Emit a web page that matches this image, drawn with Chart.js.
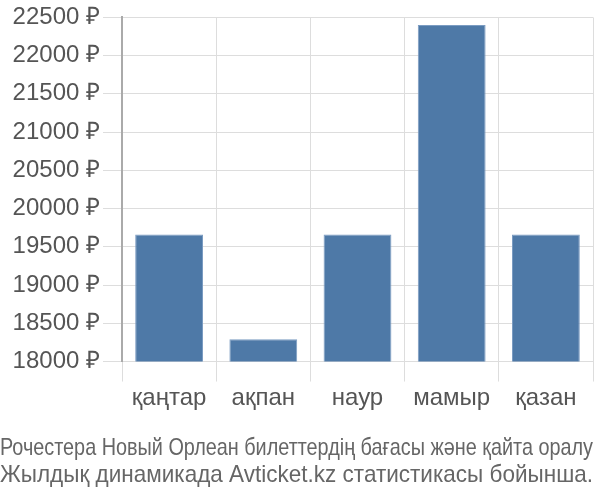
<!DOCTYPE html>
<html>
<head>
<meta charset="utf-8">
<script src="https://cdn.jsdelivr.net/npm/chart.js@4"></script>
<style>
  body { margin: 0; background: #fff; }
  #wrap { width: 600px; height: 500px; position: relative; }
</style>
</head>
<body>
<div id="wrap"><canvas id="priceChart"></canvas></div>
<script>
const months = ['қаңтар', 'ақпан', 'наур', 'мамыр', 'қазан'];
const prices = [19660, 18290, 19660, 22400, 19660];
const titleLines = [
  'Рочестера Новый Орлеан билеттердің бағасы және қайта оралу',
  'Жылдық динамикада Avticket.kz статистикасы бойынша.'
];

const ctx = document.getElementById('priceChart').getContext('2d');

new Chart(ctx, {
  type: 'bar',
  data: {
    labels: months,
    datasets: [{
      data: prices,
      backgroundColor: '#4e79a7',
      borderColor: '#7b9cc2',
      borderWidth: 1
    }]
  },
  options: {
    responsive: true,
    maintainAspectRatio: false,
    animation: false,
    layout: { padding: { top: -2, right: 7, left: 0, bottom: 10 } },
    scales: {
      x: {
        grid: { color: '#dddddd', tickLength: 20, offset: true },
        border: { color: '#dddddd' },
        ticks: { color: '#555', font: { family: 'Liberation Sans', size: 24 }, padding: 2 }
      },
      y: {
        min: 18000,
        max: 22500,
        afterFit: scale => { scale.width = 122; },
        grid: { color: '#dddddd', tickLength: 19 },
        border: { color: '#aaaaaa', width: 2 },
        ticks: {
          stepSize: 500,
          color: '#555',
          padding: 3,
          font: { family: 'Liberation Sans', size: 24 },
          callback: value => value + ' ₽'
        }
      }
    },
    plugins: {
      legend: { display: false },
      tooltip: { enabled: false },
      title: {
        display: true,
        position: 'bottom',
        text: titleLines,
        color: '#666',
        font: { family: 'Liberation Sans', size: 23.2, weight: 'normal' },
        lineHeight: 1.22,
        padding: { top: 20, bottom: 0 }
      }
    }
  }
});
</script>
</body>
</html>
